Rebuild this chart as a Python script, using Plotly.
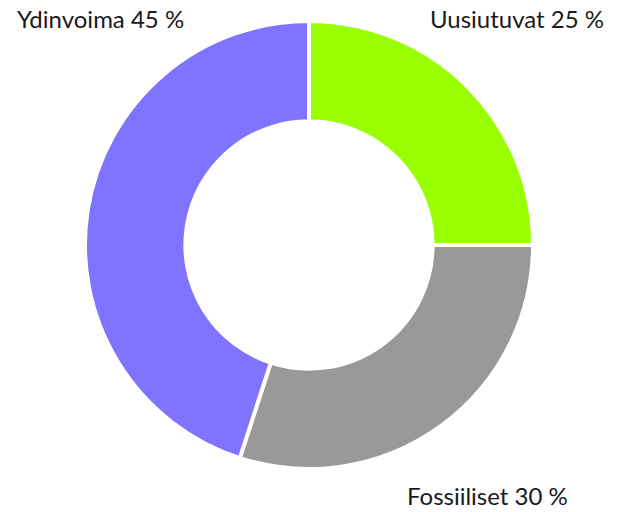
import plotly.graph_objects as go

labels = ["Uusiutuvat", "Fossiiliset", "Ydinvoima"]
values = [25, 30, 45]
colors = ["#99FF00", "#999999", "#8073FF"]
label_texts = ["Uusiutuvat 25 %", "Fossiiliset 30 %", "Ydinvoima 45 %"]

W, H = 620, 512
cx, cy, r = 309, 245, 224

fig = go.Figure(go.Pie(
    labels=labels,
    values=values,
    marker=dict(colors=colors, line=dict(color="white", width=4)),
    hole=0.552,
    sort=False,
    direction="clockwise",
    rotation=0,
    textinfo="none",
    hoverinfo="label+percent",
    domain=dict(x=[(cx - r) / W, (cx + r) / W], y=[1 - (cy + r) / H, 1 - (cy - r) / H]),
))

font = dict(family="Lato, 'Open Sans', sans-serif", size=24, color="#1a1a1a")
fig.add_annotation(text=label_texts[2], x=15 / W, y=1 - 18 / H, xref="paper", yref="paper",
                   xanchor="left", yanchor="middle", showarrow=False, font=font)
fig.add_annotation(text=label_texts[0], x=606 / W, y=1 - 18 / H, xref="paper", yref="paper",
                   xanchor="right", yanchor="middle", showarrow=False, font=font)
fig.add_annotation(text=label_texts[1], x=405 / W, y=0, xref="paper", yref="paper",
                   xanchor="left", yanchor="bottom", showarrow=False, font=font)

fig.update_layout(
    width=W, height=H,
    margin=dict(l=0, r=0, t=0, b=0),
    paper_bgcolor="white",
    plot_bgcolor="white",
    showlegend=False,
)

fig.write_html("out.html", config={"displayModeBar": False},
               post_script="document.body.style.margin='0';")
